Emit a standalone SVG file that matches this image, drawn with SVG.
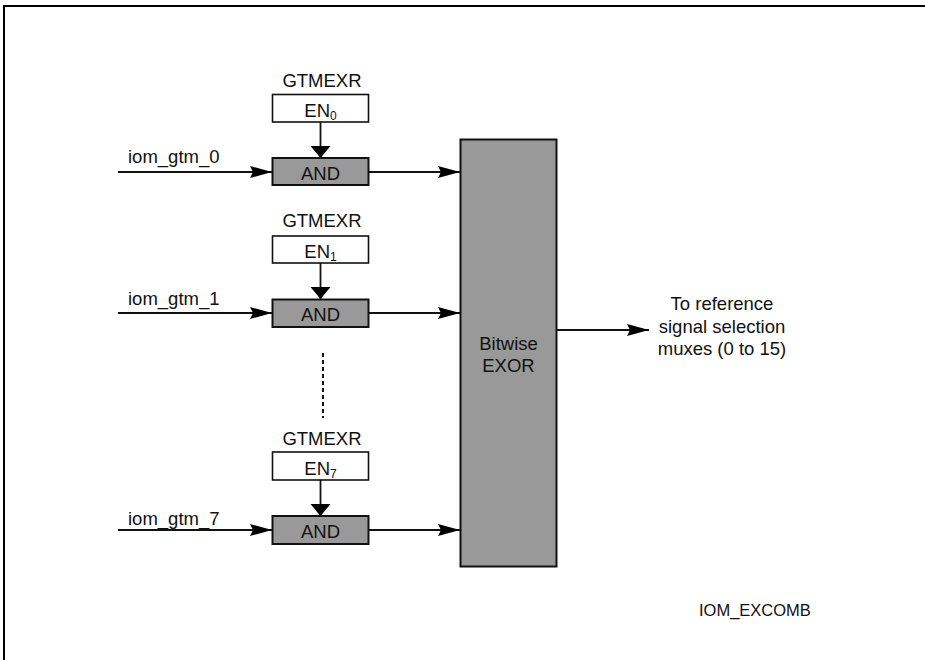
<svg xmlns="http://www.w3.org/2000/svg" width="925" height="660" viewBox="0 0 925 660">
<defs>
<style>
text{font-family:"Liberation Sans",Arial,sans-serif;font-size:18.5px;fill:#111}
.c{text-anchor:middle}
.sub{font-size:12px}
.en{fill:#fff;stroke:#111;stroke-width:1.6}
.gate{fill:#999;stroke:#111;stroke-width:2}
.ln{stroke:#111;stroke-width:1.8;fill:none}
.dot{stroke:#111;stroke-width:2;stroke-dasharray:4 3;fill:none}
.frame{stroke:#000;stroke-width:2;fill:none}
</style>
<marker id="ah" markerUnits="userSpaceOnUse" markerWidth="23" markerHeight="13" refX="22" refY="6" orient="auto" overflow="visible">
<path d="M0,0 L22,6 L0,12 L3,6 Z" fill="#000"/>
</marker>
<marker id="av" markerUnits="userSpaceOnUse" markerWidth="13" markerHeight="21" refX="12" refY="10" orient="auto" overflow="visible">
<path d="M0,0 L12,10 L0,20 Z" fill="#000"/>
</marker>
</defs>
<rect width="925" height="660" fill="#fff"/>
<path class="frame" d="M4,660 V6 H925"/>

<g id="connectors">
<line class="ln" x1="118" y1="172" x2="272" y2="172" marker-end="url(#ah)"/>
<line class="ln" x1="118" y1="313" x2="272" y2="313" marker-end="url(#ah)"/>
<line class="ln" x1="118" y1="530" x2="272" y2="530" marker-end="url(#ah)"/>
<line class="ln" x1="320.5" y1="122" x2="320.5" y2="158" marker-end="url(#av)"/>
<line class="ln" x1="320.5" y1="263" x2="320.5" y2="299" marker-end="url(#av)"/>
<line class="ln" x1="320.5" y1="480" x2="320.5" y2="516" marker-end="url(#av)"/>
<line class="ln" x1="369" y1="172" x2="460" y2="172" marker-end="url(#ah)"/>
<line class="ln" x1="369" y1="313" x2="460" y2="313" marker-end="url(#ah)"/>
<line class="ln" x1="369" y1="530" x2="460" y2="530" marker-end="url(#ah)"/>
<line class="ln" x1="557" y1="330" x2="649" y2="330" marker-end="url(#ah)"/>
<line class="dot" x1="323" y1="353" x2="323" y2="418"/>
</g>

<g id="in0"><text x="128" y="163">iom_gtm_0</text></g>
<g id="in1"><text x="128" y="305">iom_gtm_1</text></g>
<g id="in7"><text x="128" y="525">iom_gtm_7</text></g>

<g id="en0">
<text class="c" x="322" y="87">GTMEXR</text>
<rect class="en" x="272.5" y="94.5" width="96" height="27.5"/>
<text class="c" x="320.5" y="117">EN<tspan class="sub" dy="3">0</tspan></text>
</g>
<g id="and0">
<rect class="gate" x="272.5" y="158" width="96" height="27"/>
<text class="c" x="320.5" y="179.5">AND</text>
</g>

<g id="en1">
<text class="c" x="322" y="227">GTMEXR</text>
<rect class="en" x="272.5" y="236" width="96" height="27"/>
<text class="c" x="320.5" y="258">EN<tspan class="sub" dy="3">1</tspan></text>
</g>
<g id="and1">
<rect class="gate" x="272.5" y="299.5" width="96" height="27.5"/>
<text class="c" x="320.5" y="321">AND</text>
</g>

<g id="en7">
<text class="c" x="322" y="445">GTMEXR</text>
<rect class="en" x="272.5" y="452" width="96" height="28"/>
<text class="c" x="320.5" y="475">EN<tspan class="sub" dy="3">7</tspan></text>
</g>
<g id="and7">
<rect class="gate" x="272.5" y="516" width="96" height="28"/>
<text class="c" x="320.5" y="538">AND</text>
</g>

<g id="exor">
<rect class="gate" x="460.5" y="139.5" width="96" height="427"/>
<text class="c" x="508.5" y="350">Bitwise</text>
<text class="c" x="508.5" y="372">EXOR</text>
</g>

<g id="out">
<text class="c" x="722" y="310">To reference</text>
<text class="c" x="722" y="332.5">signal selection</text>
<text class="c" x="722" y="355">muxes (0 to 15)</text>
</g>

<g id="figid"><text x="699" y="616" style="font-size:16.5px">IOM_EXCOMB</text></g>
</svg>
